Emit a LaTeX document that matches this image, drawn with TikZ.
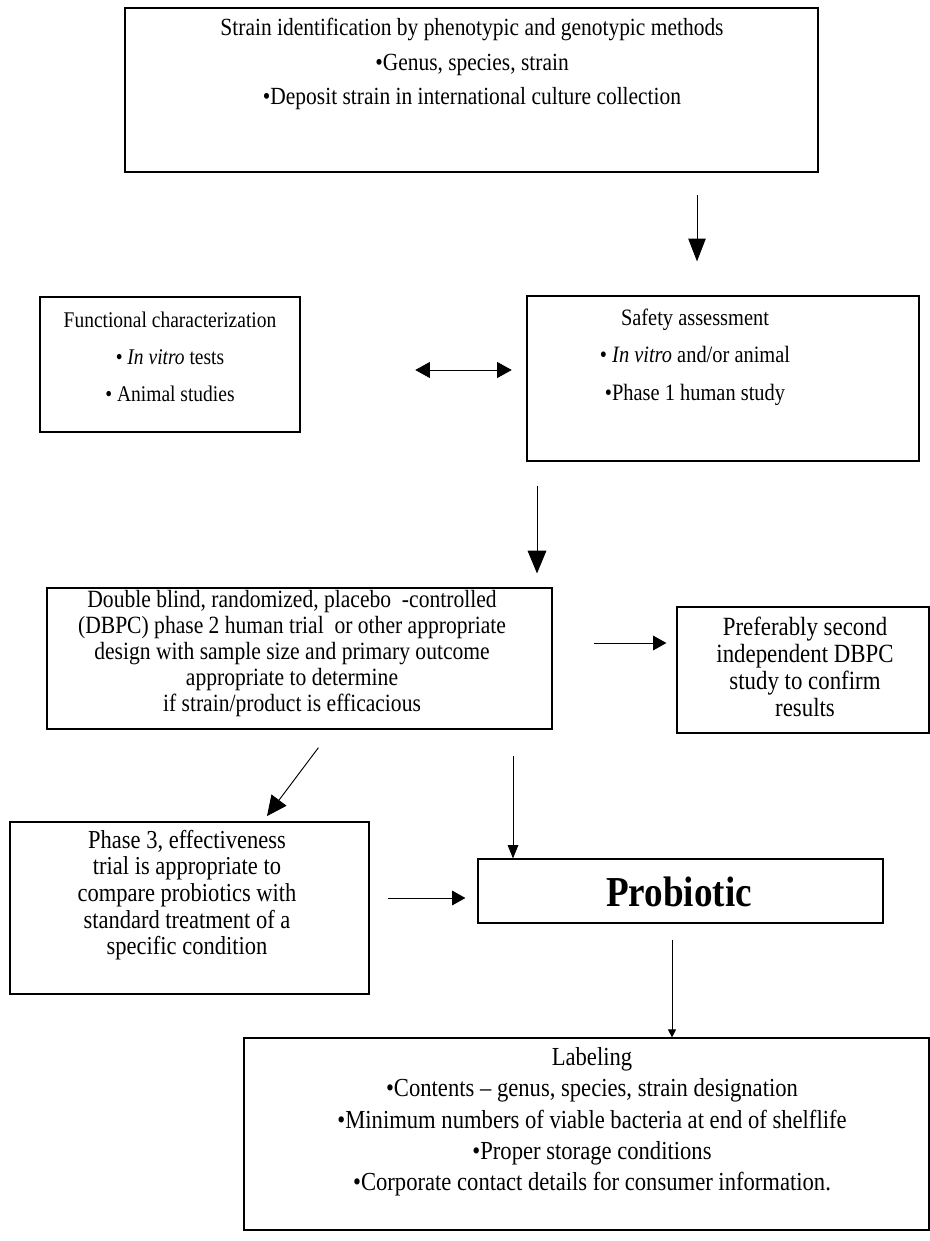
\documentclass[tikz,border=0pt]{standalone}
\usepackage{fontspec}
\setmainfont{Liberation Serif}[FakeStretch=0.87]
\usetikzlibrary{arrows.meta,fit}
\begin{document}
\begin{tikzpicture}[x=0.75pt,y=-0.75pt]
\useasboundingbox[fill=white] (0,0) rectangle (930,1241);
\tikzset{
  box/.style={draw, line width=0.9pt, inner sep=0pt},
  txt/.style={align=center, inner sep=0pt},
  conn/.style={line width=0.7pt},
  tipA/.style={conn, -{Triangle[length=17pt,width=13pt]}},
  tipB/.style={conn, -{Triangle[length=17pt,width=14pt]}},
  tipD/.style={conn, {Triangle[length=11pt,width=12pt]}-{Triangle[length=11pt,width=12pt]}},
  tipC/.style={conn, -{Triangle[length=10pt,width=11pt]}},
  tipG/.style={conn, -{Triangle[length=15pt,width=14pt]}},
  tipV/.style={conn, -{Triangle[length=10pt,width=8pt]}},
  tipS/.style={conn, -{Triangle[length=6pt,width=6pt]}}
}
% boxes
\node[box, fit={(125,8) (818,172)}] (top) {};
\node[box, fit={(40,297) (300,432)}] (func) {};
\node[box, fit={(527,296) (919,461)}] (safety) {};
\node[box, fit={(47,588) (552,729)}] (dbpc) {};
\node[box, fit={(677,607) (929,733)}] (pref) {};
\node[box, fit={(10,822) (369,994)}] (phase) {};
\node[box, fit={(478,859) (883,923)}] (prob) {};
\node[box, fit={(244,1038) (929,1230)}] (lab) {};
% texts
\node[txt, font=\fontsize{18.5}{26}\selectfont] (ttop) at (472,64)
  {Strain identification by phenotypic and genotypic methods\\
   •Genus, species, strain\\
   •Deposit strain in international culture collection};
\node[txt, font=\fontsize{16.8}{28}\selectfont] (tfunc) at (170,357)
  {Functional characterization\\
   • \textit{In vitro} tests\\
   • Animal studies};
\node[txt, font=\fontsize{17.6}{28}\selectfont] (tsafety) at (695,357)
  {Safety assessment\\
   • \textit{In vitro} and/or animal\\
   •Phase 1 human study};
\node[txt, font=\fontsize{18.6}{19.5}\selectfont] (tdbpc) at (292,654)
  {Double blind, randomized, placebo\ \ -controlled\\
   (DBPC) phase 2 human trial\ \ or other appropriate\\
   design\ with sample size\ and primary outcome\\
   appropriate to determine\\
   if strain/product is efficacious};
\node[txt, font=\fontsize{19.7}{20.2}\selectfont] (tpref) at (805,667)
  {Preferably second\\
   independent DBPC\\
   study to confirm\\
   results};
\node[txt, font=\fontsize{19.4}{20}\selectfont] (tphase) at (187,895)
  {Phase 3, effectiveness\\
   trial is appropriate to\\
   compare probiotics with\\
   standard treatment of a\\
   specific condition};
\node[txt, font=\fontsize{32}{36}\bfseries\selectfont] (tprob) at (679,892) {Probiotic};
\node[txt, font=\fontsize{19.5}{23.5}\selectfont] (tlab) at (592,1122)
  {Labeling\\
   •Contents – genus, species, strain designation\\
   •Minimum numbers of viable bacteria at end of shelflife\\
   •Proper storage conditions\\
   •Corporate contact details for consumer information.};
% guide coordinates
\coordinate (x1) at (697,0);
\coordinate (y2) at (0,370);
\coordinate (x3) at (537,0);
\coordinate (y4) at (0,643);
\coordinate (xa) at (332,0);
\coordinate (xb) at (263,0);
\coordinate (x5) at (513,0);
\coordinate (y6) at (0,898);
\coordinate (x7) at (672,0);
% connectors
\draw[tipA, shorten <=17pt, shorten >=25.5pt] (top.south -| x1) -- (safety.north -| x1);
\draw[tipD, shorten <=86pt, shorten >=11pt] (func.east |- y2) -- (safety.west |- y2);
\draw[tipB, shorten <=18pt, shorten >=10.5pt] (safety.south -| x3) -- (dbpc.north -| x3);
\draw[tipC, shorten <=30.75pt, shorten >=7.5pt] (dbpc.east |- y4) -- (pref.west |- y4);
\draw[tipG, shorten <=17pt, shorten >=5pt] (dbpc.south -| xa) -- (phase.north -| xb);
\draw[tipV, shorten <=20pt] (dbpc.south -| x5) -- (prob.north -| x5);
\draw[tipC, shorten <=13.5pt, shorten >=9pt] (phase.east |- y6) -- (prob.west |- y6);
\draw[tipS, shorten <=12pt] (prob.south -| x7) -- (lab.north -| x7);
\end{tikzpicture}
\end{document}
